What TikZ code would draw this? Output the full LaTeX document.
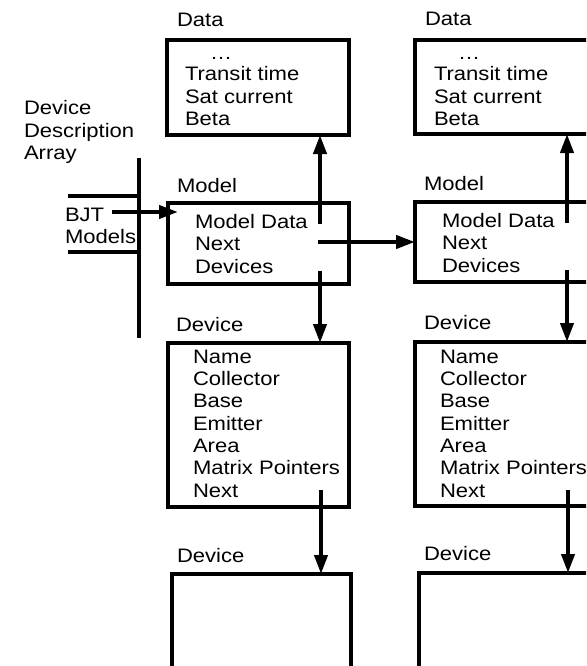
\documentclass[tikz,border=0pt]{standalone}
\usepackage{fontspec}
\setmainfont{Liberation Sans}[FakeStretch=1.13]
\usetikzlibrary{arrows.meta}
\begin{document}
\begin{tikzpicture}[x=1pt,y=-1pt,line width=4pt,
  box/.style={draw,line width=4pt,rectangle,inner sep=0pt,outer sep=0pt,anchor=north west},
  txt/.style={anchor=base west,inner sep=0pt,font=\fontsize{19.5}{22}\selectfont},
  arr/.style={-{Triangle[length=19pt,width=13pt]},line width=4pt}]
\useasboundingbox (0,0) rectangle (586,666);
\clip (0,0) rectangle (586,666);

% boxes, left column
\node[box,minimum width=182pt,minimum height=95pt]  (dataL) at (167,40)  {};
\node[box,minimum width=181pt,minimum height=81pt]  (modL)  at (168,203) {};
\node[box,minimum width=181pt,minimum height=164pt] (devL)  at (168,343) {};
\node[box,minimum width=179pt,minimum height=120pt] (devLb) at (172,574) {};
% boxes, right column
\node[box,minimum width=182pt,minimum height=94pt]  (dataR) at (415,40)  {};
\node[box,minimum width=182pt,minimum height=80pt]  (modR)  at (415,202) {};
\node[box,minimum width=182pt,minimum height=164pt] (devR)  at (415,342) {};
\node[box,minimum width=179pt,minimum height=120pt] (devRb) at (419,573) {};

% labels
\node[txt] (lblDataL) at (175,27)  {Data};
\node[txt] (lblModL)  at (175,192) {Model};
\node[txt] (lblDevL)  at (174,331) {Device};
\node[txt] (lblDevLb) at (175,562) {Device};
\node[txt] (lblDataR) at (423,26)  {Data};
\node[txt] (lblModR)  at (422,190) {Model};
\node[txt] (lblDevR)  at (422,329) {Device};
\node[txt] (lblDevRb) at (422,560) {Device};

% data box contents
\node[txt] (dotsL) at (208,60) {…};
\node[txt] (dotsR) at (456,60) {…};
\foreach \t [count=\i] in {Transit time,Sat current,Beta}{
  \node[txt] (dL\i) at (183,59+22*\i) {\t};
  \node[txt] (dR\i) at (432,59+22*\i) {\t};
}
% model box contents
\foreach \t [count=\i] in {Model Data,Next,Devices}{
  \node[txt] (mL\i) at (193,205.5+22.5*\i) {\t};
  \node[txt] (mR\i) at (440,204.5+22.5*\i) {\t};
}
% device box contents
\foreach \t [count=\i] in {Name,Collector,Base,Emitter,Area,Matrix Pointers,Next}{
  \node[txt] (vL\i) at (191,341+22.3*\i) {\t};
  \node[txt] (vR\i) at (438,341+22.3*\i) {\t};
}

% device description array
\node[txt] (dda1) at (22,114) {Device};
\node[txt] (dda2) at (22,137) {Description};
\node[txt] (dda3) at (22,159) {Array};
\node[txt] (bjt1) at (63,221) {BJT};
\node[txt] (bjt2) at (63,243) {Models};
\coordinate (arrT) at (139,158);
\coordinate (arrB) at (139,338);
\draw (arrT) -- (arrB);
\coordinate (mA) at (68,196);
\coordinate (mB) at (68,252);
\draw (mA) -- (mA -| arrT);
\draw (mB) -- (mB -| arrT);
\coordinate (bjtS) at (112,212);
\coordinate (bjtE) at (178,212);
\draw[arr] (bjtS) -- (bjtE);

% pointers, left column
\coordinate (upL) at (320,224);
\draw[arr] (upL) -- (upL |- dataL.south);
\coordinate (dnL) at (320,271);
\draw[arr] (dnL) -- (dnL |- devL.north);
\coordinate (nxL) at (318,242);
\draw[arr] (nxL) -- (nxL -| modR.west);
\coordinate (dvL) at (321,490);
\draw[arr] (dvL) -- (dvL |- devLb.north);
% pointers, right column
\coordinate (upR) at (567,223);
\draw[arr] (upR) -- (upR |- dataR.south);
\coordinate (dnR) at (567,270);
\draw[arr] (dnR) -- (dnR |- devR.north);
\coordinate (dvR) at (568,490);
\draw[arr] (dvR) -- (dvR |- devRb.north);
\end{tikzpicture}
\end{document}
